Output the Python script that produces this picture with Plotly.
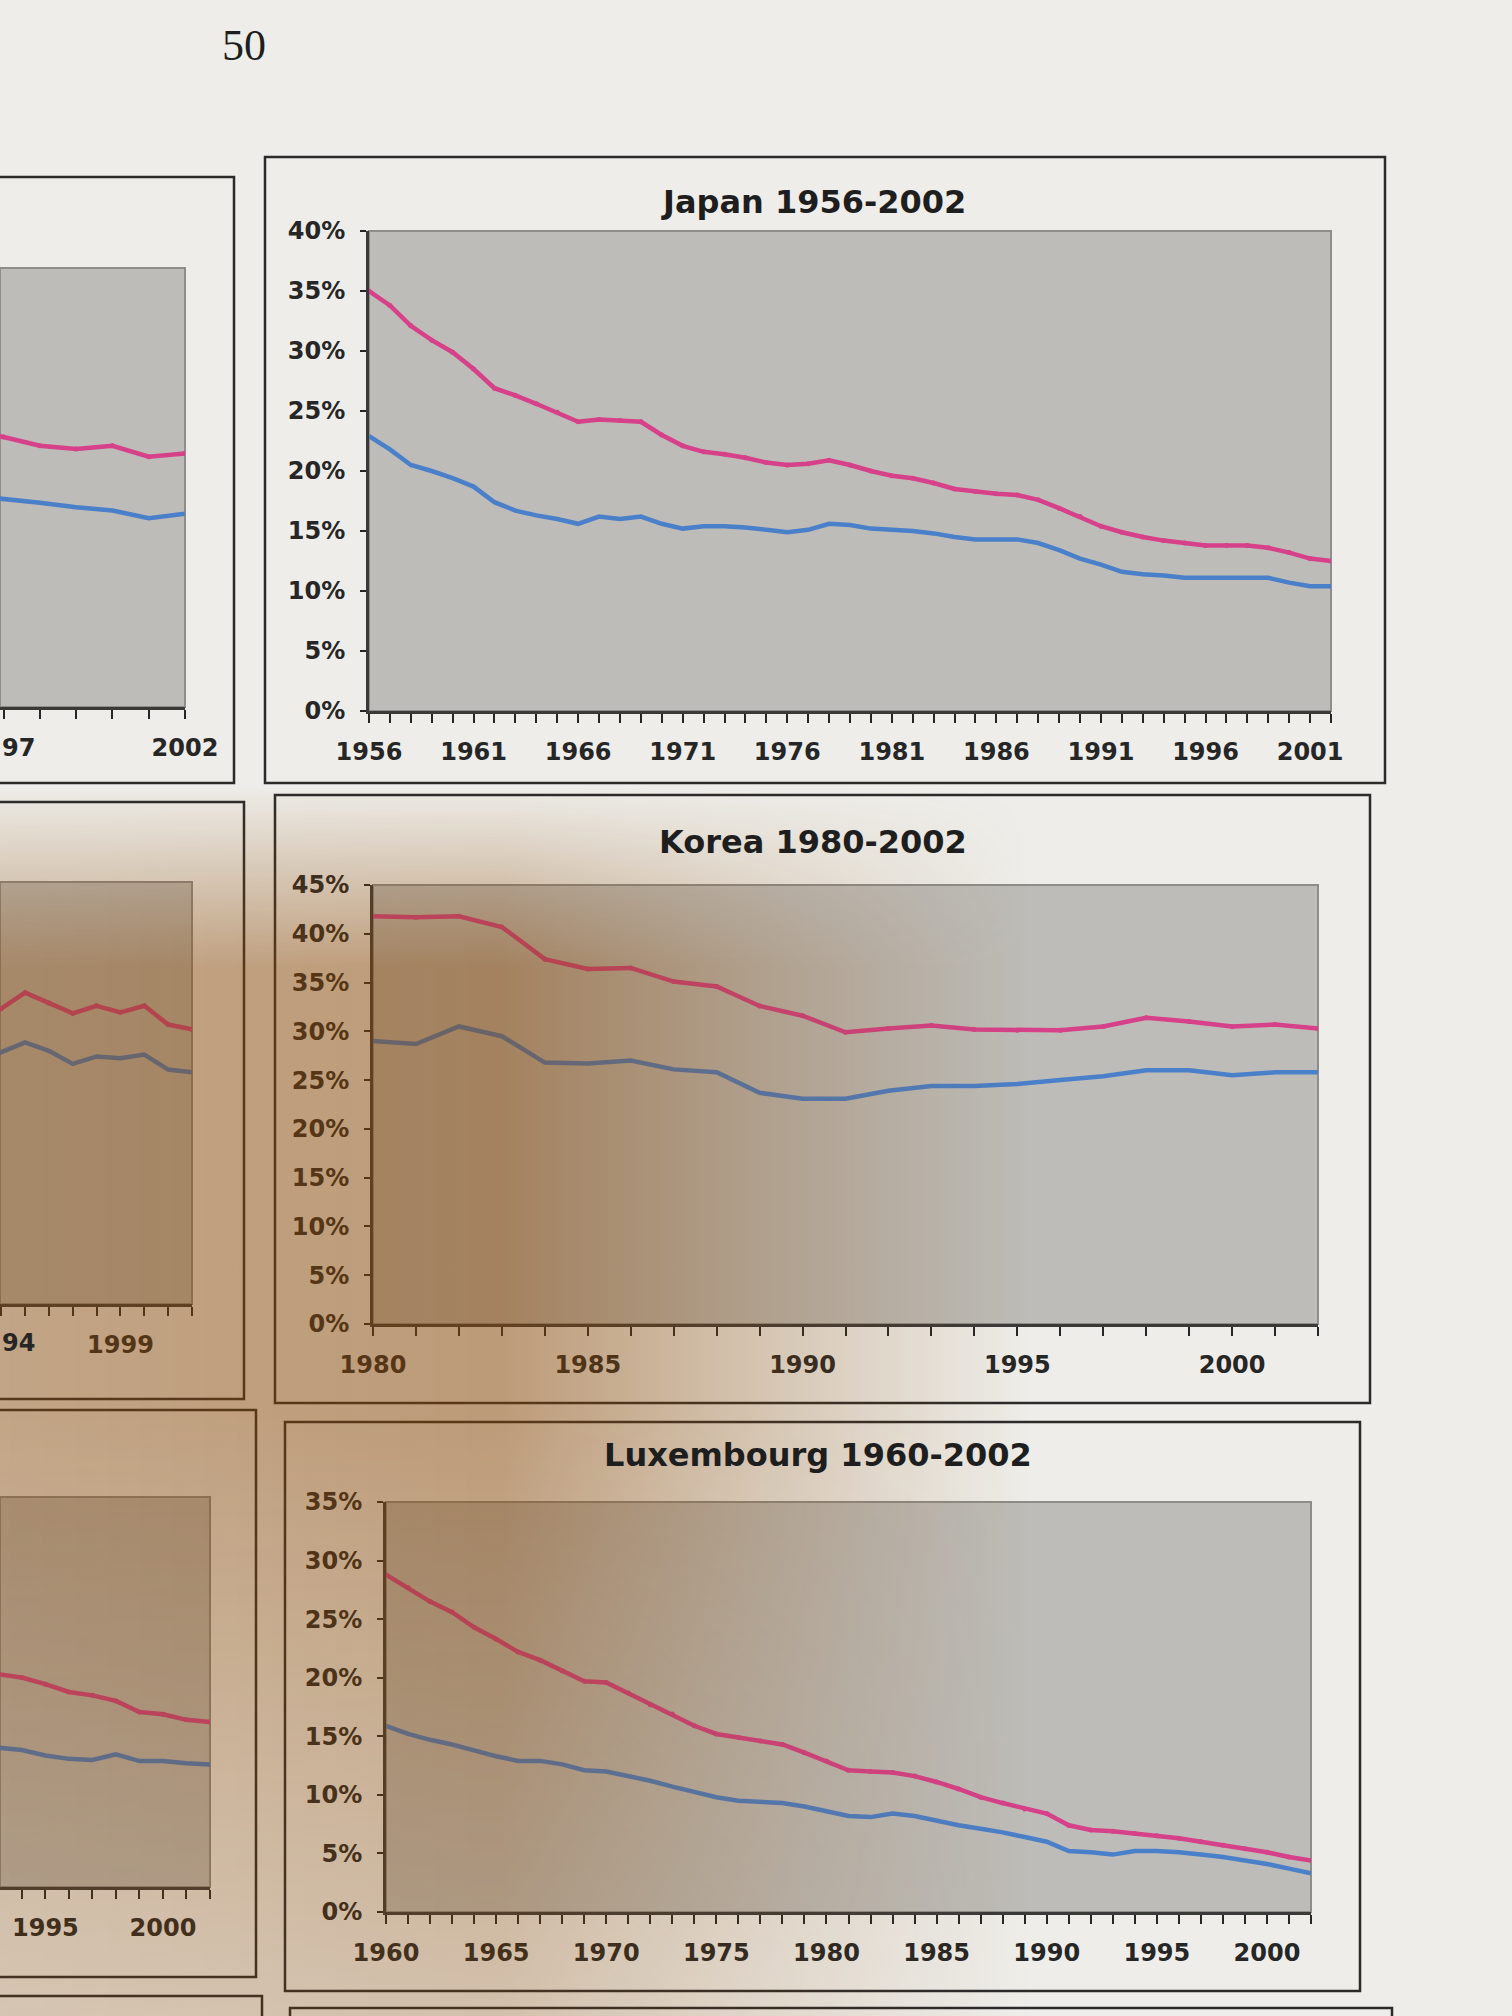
import base64
import plotly.graph_objects as go

W, H = 1512, 2016

# ---- data (percent) ----
japan_years = list(range(1956, 2003))
japan_pink = [35.0, 33.8, 32.1, 30.9, 29.9, 28.5, 26.9, 26.3, 25.6, 24.9,
              24.1, 24.3, 24.2, 24.1, 23.0, 22.1, 21.6, 21.4, 21.1, 20.7,
              20.5, 20.6, 20.9, 20.5, 20.0, 19.6, 19.4, 19.0, 18.5, 18.3,
              18.1, 18.0, 17.6, 16.9, 16.2, 15.4, 14.9, 14.5, 14.2, 14.0,
              13.8, 13.8, 13.8, 13.6, 13.2, 12.7, 12.5]
japan_blue = [22.9, 21.8, 20.5, 20.0, 19.4, 18.7, 17.4, 16.7, 16.3, 16.0,
              15.6, 16.2, 16.0, 16.2, 15.6, 15.2, 15.4, 15.4, 15.3, 15.1,
              14.9, 15.1, 15.6, 15.5, 15.2, 15.1, 15.0, 14.8, 14.5, 14.3,
              14.3, 14.3, 14.0, 13.4, 12.7, 12.2, 11.6, 11.4, 11.3, 11.1,
              11.1, 11.1, 11.1, 11.1, 10.7, 10.4, 10.4]
japan_xlabels = [1956, 1961, 1966, 1971, 1976, 1981, 1986, 1991, 1996, 2001]

korea_years = list(range(1980, 2003))
korea_pink = [41.8, 41.7, 41.8, 40.7, 37.4, 36.4, 36.5, 35.1, 34.6, 32.6,
              31.6, 29.9, 30.3, 30.6, 30.2, 30.1, 30.1, 30.5, 31.4, 31.0,
              30.5, 30.7, 30.3]
korea_blue = [29.0, 28.7, 30.5, 29.5, 26.8, 26.7, 27.0, 26.1, 25.8, 23.7,
              23.1, 23.1, 23.9, 24.4, 24.4, 24.6, 25.0, 25.4, 26.0, 26.0,
              25.5, 25.8, 25.8]
korea_xlabels = [1980, 1985, 1990, 1995, 2000]

lux_years = list(range(1960, 2003))
lux_pink = [28.8, 27.7, 26.5, 25.6, 24.3, 23.3, 22.2, 21.5, 20.6, 19.7,
            19.6, 18.7, 17.7, 16.9, 15.9, 15.2, 14.9, 14.6, 14.3, 13.6,
            12.9, 12.1, 12.0, 11.9, 11.6, 11.1, 10.5, 9.8, 9.3, 8.8,
            8.4, 7.4, 7.0, 6.9, 6.7, 6.5, 6.3, 6.0, 5.7, 5.4,
            5.1, 4.7, 4.4]
lux_blue = [15.9, 15.2, 14.7, 14.3, 13.8, 13.3, 12.9, 12.9, 12.6, 12.1,
            12.0, 11.6, 11.2, 10.7, 10.2, 9.8, 9.5, 9.4, 9.3, 9.0,
            8.6, 8.2, 8.1, 8.4, 8.2, 7.8, 7.4, 7.1, 6.8, 6.4,
            6.0, 5.2, 5.1, 4.9, 5.2, 5.2, 5.1, 4.9, 4.7, 4.4,
            4.1, 3.7, 3.3]
lux_xlabels = [1960, 1965, 1970, 1975, 1980, 1985, 1990, 1995, 2000]

# charts cut off by the left edge of the photo (only their last years show)
left_top_years = list(range(1996, 2003))
left_top_pink = [25.2, 24.6, 23.8, 23.5, 23.8, 22.8, 23.1]
left_top_blue = [19.3, 19.0, 18.6, 18.2, 17.9, 17.2, 17.6]
left_top_xlabels = [2002]

left_mid_years = list(range(1993, 2003))
left_mid_pink = [29.5, 31.5, 33.2, 32.1, 31.0, 31.8, 31.1, 31.8, 29.8, 29.3]
left_mid_blue = [25.8, 26.8, 27.9, 27.0, 25.6, 26.4, 26.2, 26.6, 25.0, 24.7]
left_mid_xlabels = [1999]

left_bot_years = list(range(1992, 2003))
left_bot_pink = [19.4, 19.1, 18.8, 18.2, 17.5, 17.2, 16.7, 15.7, 15.5, 15.0, 14.8]
left_bot_blue = [12.7, 12.5, 12.3, 11.8, 11.5, 11.4, 11.9, 11.3, 11.3, 11.1, 11.0]
left_bot_xlabels = [1995, 2000]

# what is left visible of the labels the page edge cuts through ("1997", "1994")
cut_labels = [("97", 748), ("94", 1343)]

PINK = "#d6418a"
BLUE = "#4a7fc9"
INK = "#262626"
TICKFONT = dict(family="DejaVu Sans", size=24, color=INK, weight="bold")


def xd(a, b):
    return [max(a / W, 0), min(b / W, 1)]


def yd(top, bottom):
    return [1 - bottom / H, 1 - top / H]


fig = go.Figure()
shapes = []
annotations = []

# (years, pink, blue, labelled years, plot box px, x range, y range, title, title centre px, show y axis)
panels = [
    (japan_years, japan_pink, japan_blue, japan_xlabels, (369, 231, 1331, 711),
     [1956, 2002], [0, 40], "Japan 1956-2002", (813, 202), True),
    (korea_years, korea_pink, korea_blue, korea_xlabels, (373, 885, 1318, 1324),
     [1980, 2002], [0, 45], "Korea 1980-2002", (813, 842), True),
    (lux_years, lux_pink, lux_blue, lux_xlabels, (386, 1502, 1311, 1912),
     [1960, 2002], [0, 35], "Luxembourg 1960-2002", (818, 1455), True),
    (left_top_years, left_top_pink, left_top_blue, left_top_xlabels, (0, 268, 185, 707),
     [1996.9, 2002], [0, 40], None, None, False),
    (left_mid_years, left_mid_pink, left_mid_blue, left_mid_xlabels, (0, 882, 192, 1304),
     [1993.95, 2002], [0, 45], None, None, False),
    (left_bot_years, left_bot_pink, left_bot_blue, left_bot_xlabels, (0, 1497, 210, 1887),
     [1993.07, 2002], [0, 35], None, None, False),
]

for i, (years, pink, blue, xlabels, box, xr, yr, title, tpos, show_y) in enumerate(panels, start=1):
    xn = "x" if i == 1 else f"x{i}"
    yn = "y" if i == 1 else f"y{i}"
    x0, y0, x1, y1 = box

    fig.add_trace(go.Scatter(x=years, y=blue, mode="lines", xaxis=xn, yaxis=yn,
                             line=dict(color=BLUE, width=4.5), showlegend=False))
    fig.add_trace(go.Scatter(x=years, y=pink, mode="lines+markers", xaxis=xn, yaxis=yn,
                             line=dict(color=PINK, width=4.5),
                             marker=dict(size=5, color=PINK), showlegend=False))

    fig.layout[xn.replace("x", "xaxis")] = dict(
        domain=xd(x0, x1), anchor=yn, range=xr, automargin=False,
        tickmode="array", tickvals=xlabels, ticktext=[str(v) for v in xlabels],
        ticks="outside", ticklen=9, tickwidth=2, tickcolor=INK,
        showline=True, linecolor="#3a3a3a", linewidth=3,
        showgrid=False, zeroline=False, tickfont=TICKFONT,
        ticklabelstandoff=8,
        minor=dict(tickmode="linear", dtick=1, tick0=2002, ticks="outside", ticklen=9,
                   tickwidth=2, tickcolor=INK, showgrid=False),
    )
    fig.layout[yn.replace("y", "yaxis")] = dict(
        domain=yd(y0, y1), anchor=xn, range=yr, visible=show_y, automargin=False,
        tickmode="linear", tick0=0, dtick=5, ticksuffix="%",
        ticks="outside", ticklen=6, tickwidth=2, tickcolor=INK,
        showline=True, linecolor="#3a3a3a", linewidth=3,
        showgrid=False, zeroline=False, tickfont=TICKFONT,
        ticklabelstandoff=10,
    )

    # grey plot area
    shapes.append(dict(type="rect", xref=f"{xn} domain", yref=f"{yn} domain",
                       x0=0, x1=1, y0=0, y1=1, layer="below",
                       fillcolor="#bdbcb8", line=dict(color="#8e8d89", width=2)))
    if title:
        annotations.append(dict(text=title, xref="paper", yref="paper",
                                x=tpos[0] / W, y=1 - tpos[1] / H,
                                xanchor="center", yanchor="middle", showarrow=False,
                                font=dict(family="DejaVu Sans", size=32, color="#1e1e1e",
                                          weight="bold")))

for text, ypx in cut_labels:
    annotations.append(dict(text=text, xref="paper", yref="paper", x=0, y=1 - ypx / H,
                            xanchor="left", yanchor="middle", showarrow=False,
                            font=TICKFONT))

# frames round each chart on the page (px: left, top, right, bottom)
frames = [(265, 157, 1385, 783), (275, 795, 1370, 1403), (285, 1422, 1360, 1991),
          (-20, 177, 234, 783), (-20, 802, 244, 1399), (-20, 1410, 256, 1977),
          (290, 2008, 1392, 2100), (-20, 1996, 262, 2100)]
for l, t, r, b in frames:
    shapes.append(dict(type="rect", xref="paper", yref="paper",
                       x0=l / W, x1=r / W, y0=1 - b / H, y1=1 - t / H,
                       line=dict(color="#2b2b2b", width=2.5), layer="below"))

annotations.append(dict(text="50", xref="paper", yref="paper", x=244 / W, y=1 - 45 / H,
                        xanchor="center", yanchor="middle", showarrow=False,
                        font=dict(family="Liberation Serif", size=44, color="#1e1e1e")))

# light brown shadow lying across the middle-left of the photographed page
shade = f'''<svg xmlns="http://www.w3.org/2000/svg" width="{W}" height="{H}">
<defs>
<linearGradient id="h" x1="0" y1="0" x2="{W}" y2="0" gradientUnits="userSpaceOnUse">
<stop offset="0" stop-color="#8a4806" stop-opacity="0.44"/>
<stop offset="0.33" stop-color="#8a4806" stop-opacity="0.5"/>
<stop offset="0.52" stop-color="#8a4806" stop-opacity="0.22"/>
<stop offset="0.68" stop-color="#8a4806" stop-opacity="0.0"/>
</linearGradient>
<linearGradient id="v" x1="0" y1="0" x2="0" y2="{H}" gradientUnits="userSpaceOnUse">
<stop offset="0.39" stop-color="#000"/>
<stop offset="0.48" stop-color="#fff"/>
<stop offset="0.70" stop-color="#fff"/>
<stop offset="1" stop-color="#8a8a8a"/>
</linearGradient>
<mask id="m"><rect width="{W}" height="{H}" fill="url(#v)"/></mask>
</defs>
<rect width="{W}" height="{H}" fill="url(#h)" mask="url(#m)"/>
</svg>'''
shade_uri = "data:image/svg+xml;base64," + base64.b64encode(shade.encode()).decode()

fig.update_layout(
    width=W, height=H, autosize=False,
    margin=dict(l=0, r=0, t=0, b=0, autoexpand=False),
    paper_bgcolor="#eeede9", plot_bgcolor="rgba(0,0,0,0)",
    shapes=shapes, annotations=annotations,
    images=[dict(source=shade_uri, xref="paper", yref="paper", x=0, y=1,
                 sizex=1, sizey=1, sizing="stretch", layer="above")],
)

fig.write_html("out.html", config={"displayModeBar": False},
               post_script="document.body.style.margin='0';")
